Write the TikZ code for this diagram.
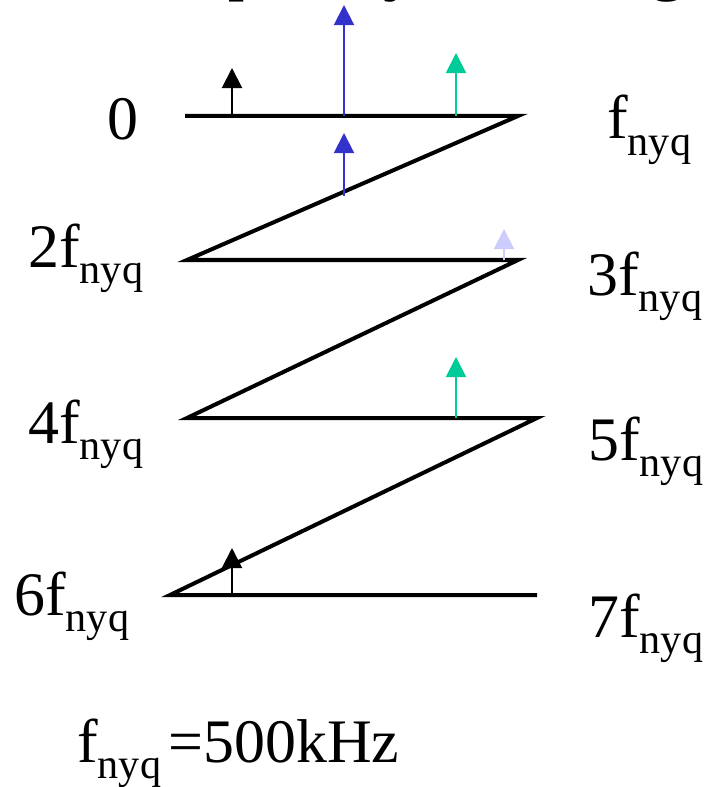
\documentclass[tikz,border=0pt]{standalone}
\usepackage{fontspec}
\setmainfont{Liberation Serif}
\usetikzlibrary{arrows.meta}
\definecolor{specblue}{HTML}{3333CC}
\definecolor{specgreen}{HTML}{00CC99}
\definecolor{speclight}{HTML}{CCCCFF}
\newcommand{\fnyq}{f\raisebox{-0.27em}{\fontsize{30}{32}\selectfont nyq}}

\begin{document}
\begin{tikzpicture}[
  x=0.025cm,y=-0.025cm,
  fold/.style={line width=0.1cm, line join=miter},
  spike/.style={line width=0.05cm, -{Triangle[width=0.5cm,length=0.5cm]}},
  lbl/.style={inner sep=0pt, anchor=base west, font=\fontsize{44}{48}\selectfont}
]
\useasboundingbox (0,0) rectangle (706,787);

% title, only its lower edge is inside the frame
\begin{scope}
\clip (0,0) rectangle (706,787);
\node[lbl, font=\fontsize{52}{56}\selectfont] (title) at (111,-13.5) {Frequency Aliasing};
\end{scope}

% folded frequency axis
\coordinate (z0) at (185,116);
\coordinate (z1) at (518,116);
\coordinate (z2) at (187,260);
\coordinate (z3) at (518,260);
\coordinate (z4) at (187,418);
\coordinate (z5) at (537,418);
\coordinate (z6) at (170,595);
\coordinate (z7) at (537,595);
\draw[fold] (z0) -- (z1) -- (z2) -- (z3) -- (z4) -- (z5) -- (z6) -- (z7);

% spectral lines
\draw[spike, black] (232,116) -- (232,68);
\draw[spike, specblue] (344,116) -- (344,5);
\draw[spike, specgreen] (456,116) -- (456,53);
\draw[spike, specblue] (344,196) -- (344,133);
\draw[spike, speclight] (504,260) -- (504,229);
\draw[spike, specgreen] (456,418) -- (456,357);
\draw[spike, black] (232,595) -- (232,548);

% zone labels
\node[lbl, anchor=base] (l0) at (123,140) {0};
\node[lbl] (l1) at (607,139) {\fnyq};
\node[lbl] (l2) at (28,267) {2\fnyq};
\node[lbl] (l3) at (587,295) {3\fnyq};
\node[lbl] (l4) at (28,443) {4\fnyq};
\node[lbl] (l5) at (588,460) {5\fnyq};
\node[lbl] (l6) at (14,615) {6\fnyq};
\node[lbl] (l7) at (588,637) {7\fnyq};

\node[lbl] (fs) at (77,762) {\fnyq\hspace{0.12em}=500kHz};
\end{tikzpicture}
\end{document}
